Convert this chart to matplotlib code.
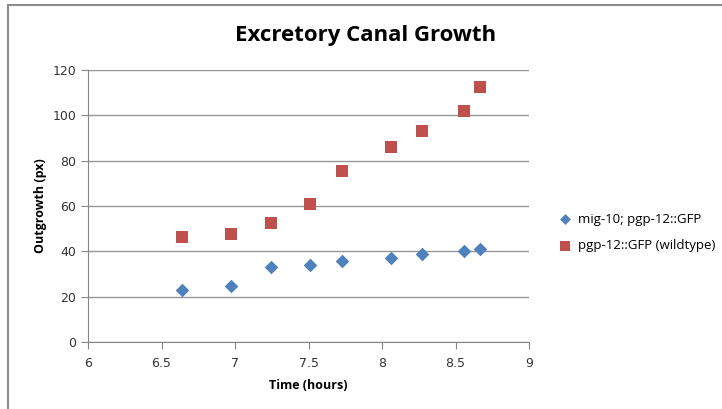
import matplotlib
import matplotlib.pyplot as plt
from matplotlib.patches import Rectangle

matplotlib.use("Agg")

# time points (hours) and outgrowth measurements (px)
time_h = [6.64, 6.97, 7.245, 7.51, 7.73, 8.06, 8.27, 8.56, 8.67]
mig10 = [22.8, 24.9, 33.1, 34.1, 35.6, 37.2, 38.8, 40.0, 41.2]
wildtype = [46.3, 47.6, 52.4, 61.0, 75.4, 86.2, 93.2, 102.0, 112.4]

series_labels = ["mig-10; pgp-12::GFP", "pgp-12::GFP (wildtype)"]
x_ticks = [6, 6.5, 7, 7.5, 8, 8.5, 9]
x_tick_labels = ["6", "6.5", "7", "7.5", "8", "8.5", "9"]
y_ticks = [0, 20, 40, 60, 80, 100, 120]

W, H = 722, 409
fig = plt.figure(figsize=(W / 100, H / 100), dpi=100)
ax = fig.add_axes([88 / W, 1 - 342 / H, (529 - 88) / W, (342 - 70) / H])

ax.scatter(time_h, mig10, marker="D", s=48, color="#4F81BD", label=series_labels[0], zorder=3, linewidths=0)
ax.scatter(time_h, wildtype, marker="s", s=80, color="#C0504D", label=series_labels[1], zorder=3, linewidths=0)

ax.set_xlim(6, 9)
ax.set_ylim(0, 120)
ax.set_xticks(x_ticks)
ax.set_xticklabels(x_tick_labels)
ax.set_yticks(y_ticks)
ax.yaxis.grid(True, color="#969696", linewidth=1)
ax.set_axisbelow(True)

for side in ("top", "right"):
    ax.spines[side].set_visible(False)
for side in ("left", "bottom"):
    ax.spines[side].set_color("#868686")
ax.tick_params(direction="out", length=5, color="#868686", labelsize=9, labelcolor="#333333")
ax.tick_params(axis="x", pad=6)

ax.set_xlabel("Time (hours)", fontsize=9, fontweight="bold", family="Open Sans", labelpad=6)
ax.set_ylabel("Outgrowth (px)", fontsize=9, fontweight="bold", family="Open Sans", labelpad=4)
fig.text(366 / W, 1 - 36 / H, "Excretory Canal Growth", ha="center", va="center",
         fontsize=16, fontweight="bold", family="Open Sans")

fig.legend(loc="upper left", bbox_to_anchor=(540 / W, 1 - 201 / H), frameon=False,
           handletextpad=0.0, labelspacing=1.0, markerscale=0.8,
           prop={"family": "Open Sans", "size": 9.5})

# chart area outline
fig.patches.append(Rectangle((7.5 / W, -0.1), 1.2, 1 - 5.5 / H + 0.1, transform=fig.transFigure,
                             fill=False, edgecolor="#8c8c8c", linewidth=1.5))

fig.savefig("out.png", dpi=100)
